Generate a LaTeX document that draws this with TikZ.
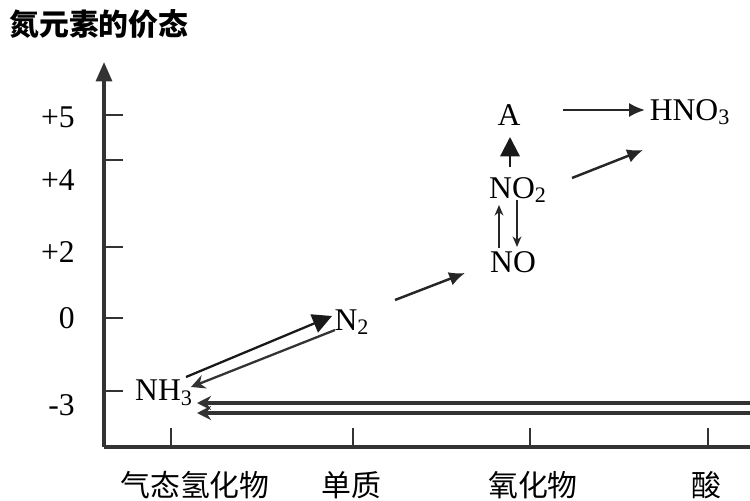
\documentclass[tikz,border=0pt]{standalone}
\usepackage{fontspec}
\setmainfont{Liberation Serif}
\newfontfamily\cjk{Noto Sans CJK SC}
\usetikzlibrary{arrows.meta}

\begin{document}
\begin{tikzpicture}[x=0.02cm,y=-0.02cm,
    chem/.style={inner sep=0pt,font=\fontsize{18}{20}\selectfont},
    cat/.style={inner sep=0pt,font=\cjk\fontsize{17}{20}\selectfont},
    rxn/.style={line width=1.4pt,black!85,-{Latex[length=9pt,width=8pt]}},
    thin rxn/.style={line width=1pt,black!85,-{Stealth[length=6pt,width=5pt]}},
    back/.style={line width=1.8pt,black!80,-{Stealth[length=8pt,width=8pt]}},
    big/.style={line width=1.3pt,black!90,-{Triangle[length=11pt,width=11pt]}}
]
    \useasboundingbox (0,0) rectangle (750,500);
    \def\ax{104}
    \def\ay{447}
    \node[cat,anchor=west,font=\cjk\bfseries\fontsize{17}{20}\selectfont] (title) at (9,24) {氮元素的价态};
    % axes
    \coordinate (o) at (\ax,\ay);
    \coordinate (ytop) at (\ax,62);
    \coordinate (xend) at (750,\ay);
    \draw[line width=2pt,black!80,-{Triangle[length=11pt,width=9pt]}] (o) -- (ytop);
    \draw[line width=2pt,black!80] (o) -- (xend);
    \foreach \y/\lab/\ly in {115/+5/117,160/+4/180,247/+2/252,318/0/318,391/-3/405}{
        \draw[line width=1.6pt,black!80] (\ax,\y) -- (123,\y);
        \node[chem,anchor=east] (v\y) at (75,\ly) {\lab};
    }
    \foreach \x in {171,353,530,708}
        \draw[line width=1.6pt,black!80] (\x,\ay) -- (\x,428);
    \foreach \x/\cat in {195/气态氢化物,351/单质,533/氧化物,706/酸}
        \node[cat] (c\x) at (\x,485) {\cat};
    % substances
    \node[chem] (nh3) at (164,393) {NH\textsubscript{3}};
    \node[chem] (n2) at (352,322) {N\textsubscript{2}};
    \node[chem] (no) at (513,262) {NO};
    \node[chem] (no2) at (518,190) {NO\textsubscript{2}};
    \node[chem] (a) at (509,115) {A};
    \node[chem] (hno3) at (690,112) {HNO\textsubscript{3}};
    \coordinate (acid1) at (750,403);
    \coordinate (acid2) at (750,413);
    % conversions
    \draw[big] ([shift={(22,-16)}]nh3.center) -- ([shift={(-20,-6)}]n2.center);
    \draw[back,line width=1.3pt] ([shift={(-17,8)}]n2.center) -- ([shift={(27,-6)}]nh3.center);
    \draw[back] (acid1) -- ([shift={(33,10)}]nh3.center);
    \draw[back] (acid2) -- ([shift={(33,20)}]nh3.center);
    \draw[rxn] ([shift={(43,-22)}]n2.center) -- ([shift={(-48,11)}]no.center);
    \draw[thin rxn] ([shift={(-14,-14)}]no.center) -- ([shift={(-19,15)}]no2.center);
    \draw[thin rxn] ([shift={(-1,10)}]no2.center) -- ([shift={(4,-15)}]no.center);
    \draw[big] ([shift={(-8,-23)}]no2.center) -- ([shift={(1,22)}]a.center);
    \draw[rxn] ([shift={(54,-12)}]no2.center) -- ([shift={(-47,38)}]hno3.center);
    \draw[rxn] ([shift={(54,-5)}]a.center) -- ([shift={(-45,-2)}]hno3.center);
\end{tikzpicture}
\end{document}
